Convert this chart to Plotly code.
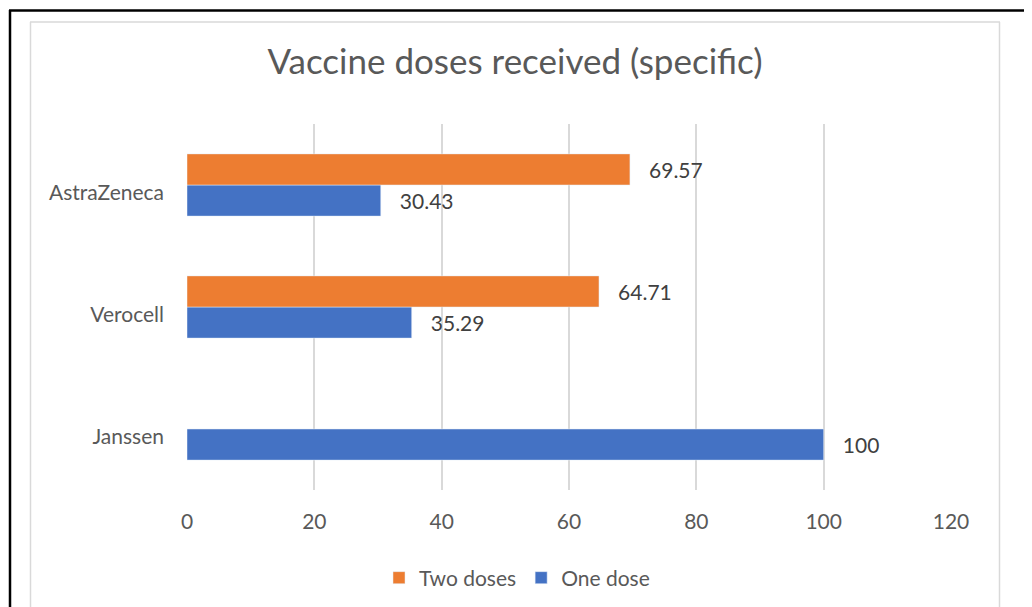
import plotly.graph_objects as go

categories = ["Janssen", "Verocell", "AstraZeneca"]
one_dose = [100, 35.29, 30.43]
two_doses = [None, 64.71, 69.57]
x_ticks = [0, 20, 40, 60, 80, 100, 120]

OFF = 8  # page body margin
W, H = 1032 - OFF, 607 - OFF
L, R, T, B = 187 - OFF, 81, 124 - OFF, 117
PW, PH = W - L - R, H - T - B

def px(x):
    return (x - OFF - L) / PW

def py(y):
    return (H - B - (y - OFF)) / PH

def fmt(v):
    if v is None:
        return ""
    return "\u00a0\u00a0\u00a0" + f"{v:g}"

FONT = "Lato, Open Sans, sans-serif"

fig = go.Figure()
fig.add_trace(go.Bar(
    y=categories, x=one_dose, name="One dose", orientation="h",
    marker_color="#4472C4", text=[fmt(v) for v in one_dose],
    textposition="outside", cliponaxis=False,
    textfont=dict(family=FONT, size=21, color="#404040"),
))
fig.add_trace(go.Bar(
    y=categories, x=two_doses, name="Two doses", orientation="h",
    marker_color="#ED7D31", text=[fmt(v) for v in two_doses],
    textposition="outside", cliponaxis=False,
    textfont=dict(family=FONT, size=21, color="#404040"),
))

shapes = [
    dict(type="line", xref="paper", yref="paper", x0=px(9), x1=px(1031), y0=py(10.5), y1=py(10.5),
         line=dict(color="black", width=2.5)),
    dict(type="line", xref="paper", yref="paper", x0=px(10), x1=px(10), y0=py(10), y1=py(620),
         line=dict(color="black", width=2.5)),
    dict(type="line", xref="paper", yref="paper", x0=px(30.5), x1=px(30.5), y0=py(22), y1=py(620),
         line=dict(color="#d9d9d9", width=1.5)),
    dict(type="line", xref="paper", yref="paper", x0=px(30), x1=px(1000), y0=py(22), y1=py(22),
         line=dict(color="#d9d9d9", width=1.5)),
    dict(type="line", xref="paper", yref="paper", x0=px(999.5), x1=px(999.5), y0=py(22), y1=py(620),
         line=dict(color="#d9d9d9", width=1.5)),
]

fig.update_layout(
    width=W, height=H,
    margin=dict(l=L, r=R, t=T, b=B),
    paper_bgcolor="white", plot_bgcolor="white",
    barmode="group", bargap=0.49, bargroupgap=0,
    title=dict(text="Vaccine doses received (specific)", x=(515 - OFF) / W, xanchor="center",
               y=1 - (62 - OFF) / H, yanchor="middle", xref="container", yref="container",
               font=dict(family=FONT, size=35, color="#595959")),
    font=dict(family=FONT, size=21, color="#595959"),
    xaxis=dict(range=[0, 120], tickvals=x_ticks, showgrid=True, gridcolor="#d9d9d9",
               gridwidth=1.5, zeroline=False, showline=False, ticks="", ticklen=0,
               ticklabelstandoff=17,
               tickfont=dict(size=21, color="#595959")),
    yaxis=dict(categoryorder="array", categoryarray=categories, showgrid=False,
               ticks="", ticklabelstandoff=22, ticklabelshift=8,
               tickfont=dict(size=21, color="#595959"),
               showline=False),
    legend=dict(orientation="h", xref="container", yref="container", x=(517 - OFF) / W,
                xanchor="center", y=1 - (578 - OFF) / H, yanchor="middle", traceorder="reversed",
                font=dict(size=21, color="#595959"), itemwidth=30),
    shapes=shapes,
    showlegend=True,
)

fig.write_html("out.html")
